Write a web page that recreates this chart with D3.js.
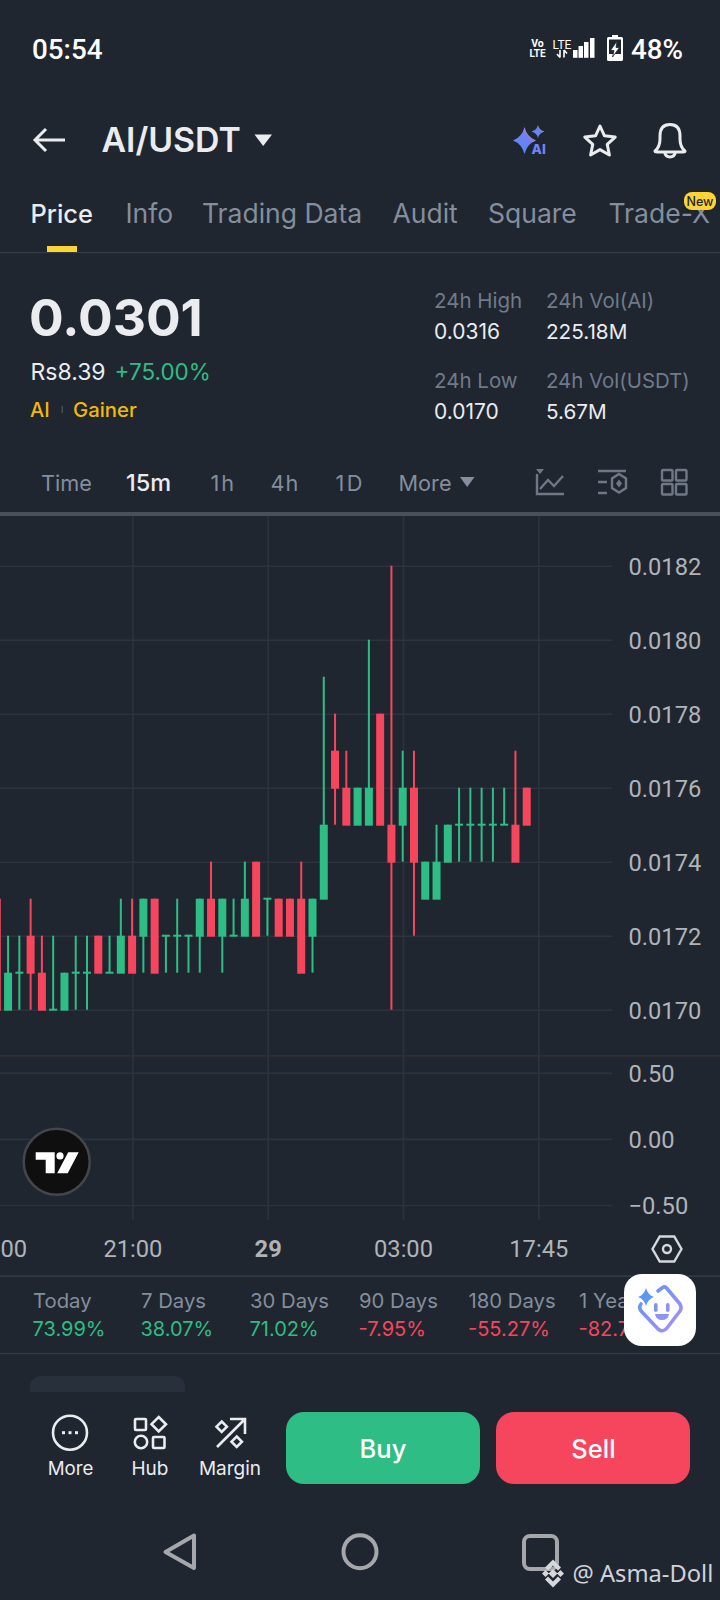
<!DOCTYPE html>
<html>
<head>
<meta charset="utf-8">
<title>AI/USDT</title>
<script src="https://cdn.jsdelivr.net/npm/d3@7/dist/d3.min.js"></script>
<style>
	html, body { margin: 0; padding: 0; background: #1f2630; }
	svg { display: block; }
	text { font-family: Inter, Roboto, sans-serif; }
</style>
</head>
<body>
<div id="app"></div>
<script>
// 15m candles, oldest first
const opens = [
	0.0173, 0.0170, 0.0171, 0.0172, 0.0171, 0.0170, 0.0170, 0.0171, 0.0171, 0.0172, 0.0171, 0.0171,
	0.0172, 0.0172, 0.0173, 0.0172, 0.0172, 0.0172, 0.0172, 0.0173, 0.0172, 0.0172, 0.0172, 0.0174,
	0.0173, 0.0173, 0.0173, 0.0173, 0.0172, 0.0173, 0.0177, 0.0176, 0.0175, 0.0175, 0.0178, 0.0175,
	0.0175, 0.0176, 0.0173, 0.0173, 0.0174, 0.0175, 0.0175, 0.0175, 0.0175, 0.0175, 0.0175, 0.0176
];
const highs = [
	0.0173, 0.0172, 0.0172, 0.0173, 0.0172, 0.0172, 0.0171, 0.0172, 0.0172, 0.0172, 0.0172, 0.0173,
	0.0173, 0.0173, 0.0173, 0.0172, 0.0173, 0.0172, 0.0173, 0.0174, 0.0173, 0.0173, 0.0174, 0.0174,
	0.0173, 0.0173, 0.0173, 0.0174, 0.0173, 0.0179, 0.0178, 0.0177, 0.0176, 0.0180, 0.0178, 0.0182,
	0.0177, 0.0177, 0.0174, 0.0175, 0.0175, 0.0176, 0.0176, 0.0176, 0.0176, 0.0176, 0.0177, 0.0176
];
const lows = [
	0.0170, 0.0170, 0.0170, 0.0170, 0.0170, 0.0170, 0.0170, 0.0170, 0.0170, 0.0171, 0.0171, 0.0171,
	0.0171, 0.0171, 0.0171, 0.0171, 0.0171, 0.0171, 0.0171, 0.0172, 0.0171, 0.0172, 0.0172, 0.0172,
	0.0172, 0.0172, 0.0172, 0.0171, 0.0171, 0.0173, 0.0175, 0.0175, 0.0175, 0.0175, 0.0175, 0.0170,
	0.0174, 0.0172, 0.0173, 0.0173, 0.0174, 0.0174, 0.0174, 0.0174, 0.0174, 0.0175, 0.0174, 0.0175
];
const closes = [
	0.0170, 0.0171, 0.0171, 0.0171, 0.0170, 0.0170, 0.0171, 0.0171, 0.0171, 0.0171, 0.0171, 0.0172,
	0.0171, 0.0173, 0.0171, 0.0172, 0.0172, 0.0172, 0.0173, 0.0172, 0.0173, 0.0172, 0.0173, 0.0172,
	0.0173, 0.0172, 0.0172, 0.0171, 0.0173, 0.0175, 0.0176, 0.0175, 0.0176, 0.0176, 0.0175, 0.0174,
	0.0176, 0.0174, 0.0174, 0.0174, 0.0175, 0.0175, 0.0175, 0.0175, 0.0175, 0.0175, 0.0174, 0.0175
];

const priceTicks = [0.0170, 0.0172, 0.0174, 0.0176, 0.0178, 0.0180, 0.0182];
const oscTicks = [-0.5, 0, 0.5];
const timeTickIndex = [0, 12, 24, 36, 48];
const timeTickLabels = ['18:00', '21:00', '29', '03:00', '17:45'];

const periodNames = ['Today', '7 Days', '30 Days', '90 Days', '180 Days', '1 Year'];
const periodChanges = [73.99, 38.07, 71.02, -7.95, -55.27, -82.71];

const tabNames = ['Price', 'Info', 'Trading Data', 'Audit', 'Square', 'Trade-X'];
const tabStarts = [30.5, 125.5, 202, 392.5, 488, 608.5];
const intervalNames = ['Time', '15m', '1h', '4h', '1D', 'More'];
const intervalStarts = [41, 126, 210.5, 270.5, 335.5, 398.5];
const intervalSpacing = [0, 0, 2, 1, 2.5, 0];
const periodStarts = [33, 141, 250, 359, 468.5, 579];

const GREEN = '#2ebd85', RED = '#f6465d', BG = '#1f2630', GRID = '#2c333d';
const WHITE = '#eaecef', GREY = '#848e9c', AXIS = '#b0b3b8';

const svg = d3.select('#app').append('svg').attr('width', 720).attr('height', 1600);
svg.append('rect').attr('width', 720).attr('height', 1600).attr('fill', BG);

const defs = svg.append('defs');
let aiGrad = defs.append('linearGradient').attr('id', 'aiGrad')
	.attr('x1', '0%').attr('y1', '100%').attr('x2', '100%').attr('y2', '0%');
aiGrad.append('stop').attr('offset', '0%').attr('stop-color', '#4f8dfa');
aiGrad.append('stop').attr('offset', '60%').attr('stop-color', '#6f80f5');
aiGrad.append('stop').attr('offset', '100%').attr('stop-color', '#f08f7f');
let botGrad = defs.append('linearGradient').attr('id', 'botGrad')
	.attr('x1', '0%').attr('y1', '0%').attr('x2', '100%').attr('y2', '100%');
botGrad.append('stop').attr('offset', '0%').attr('stop-color', '#5b97f8');
botGrad.append('stop').attr('offset', '100%').attr('stop-color', '#ab8ef5');

function label(g, x, y, str, size, fill, opts = {}) {
	return g.append('text')
		.attr('x', x).attr('y', y)
		.attr('font-size', size)
		.attr('fill', fill)
		.attr('font-weight', opts.weight || 400)
		.attr('text-anchor', opts.anchor || 'start')
		.style('font-family', opts.family || null)
		.attr('letter-spacing', opts.spacing || null)
		.text(str);
}

// ---- chart ----
const x = d3.scaleLinear().domain([0, 48]).range([-2.9, 538.3]);
const y = d3.scaleLinear().domain([0.0170, 0.0182]).range([1009.7, 565.7]);
const yOsc = d3.scaleLinear().domain([-0.5, 0.5]).range([1205, 1072.7]);

const chart = svg.append('g').attr('class', 'chart');

function styleAxis(g) {
	g.select('.domain').remove();
	g.selectAll('.tick line').attr('stroke', GRID).attr('stroke-width', 1.6);
	g.selectAll('.tick text')
		.attr('fill', AXIS)
		.attr('font-size', 23.7)
		.style('font-family', 'Roboto, sans-serif');
}

chart.append('g')
	.attr('transform', 'translate(0,1220)')
	.call(d3.axisBottom(x)
		.tickValues(timeTickIndex)
		.tickFormat((d, i) => timeTickLabels[i])
		.tickSize(-704)
		.tickPadding(20))
	.call(styleAxis)
	.call(g => g.selectAll('.tick text')
		.attr('font-weight', (d, i) => timeTickLabels[i] === '29' ? 700 : 400));

chart.append('g')
	.call(d3.axisRight(y)
		.tickValues(priceTicks)
		.tickFormat(d3.format('.4f'))
		.tickSize(612)
		.tickPadding(16.5))
	.call(styleAxis)
	.call(g => g.selectAll('.tick text').attr('dy', '0.37em'));

chart.append('g')
	.call(d3.axisRight(yOsc)
		.tickValues(oscTicks)
		.tickFormat(d3.format('.2f'))
		.tickSize(612)
		.tickPadding(16.5))
	.call(styleAxis)
	.call(g => g.selectAll('.tick text').attr('dy', '0.37em'));

chart.append('rect').attr('x', 0).attr('y', 512).attr('width', 720).attr('height', 4).attr('fill', '#4a4f59');
chart.append('rect').attr('x', 0).attr('y', 1055).attr('width', 720).attr('height', 1.6).attr('fill', '#302f33');

const candles = opens.map((o, i) => ({ i, o, h: highs[i], l: lows[i], c: closes[i] }));
const up = d => d.c >= d.o;
const candle = chart.append('g').selectAll('g').data(candles).join('g')
	.attr('fill', d => up(d) ? GREEN : RED);
candle.append('rect')
	.attr('x', d => x(d.i) - 1.3)
	.attr('width', 2)
	.attr('y', d => y(d.h))
	.attr('height', d => y(d.l) - y(d.h));
candle.append('rect')
	.attr('x', d => x(d.i) - 4.3)
	.attr('width', 8)
	.attr('y', d => d.o === d.c ? y(d.o) - 1 : y(Math.max(d.o, d.c)))
	.attr('height', d => d.o === d.c ? 2 : y(Math.min(d.o, d.c)) - y(Math.max(d.o, d.c)) + 1);

// tradingview badge
const tv = svg.append('g').attr('transform', 'translate(56.7,1161.7)');
tv.append('circle').attr('r', 33).attr('fill', '#0f0f0f').attr('stroke', '#43464d').attr('stroke-width', 2.5);
tv.append('path').attr('fill', '#fff')
	.attr('d', 'M-21 -9.5H-2V11.5H-11V-2H-21Z M11.5 -9.5H22L11 11.5H0.5Z');
tv.append('circle').attr('cx', 3.3).attr('cy', -5.8).attr('r', 3.6).attr('fill', '#fff');

// ---- status bar ----
const ui = svg.append('g');
label(ui, 32, 59, '05:54', 27.8, '#fff', { weight: 500, family: 'Roboto, sans-serif' });
label(ui, 631, 58.5, '48%', 27.8, '#fff', { weight: 500, family: 'Roboto, sans-serif' });
label(ui, 537.5, 47, 'Vo', 10.5, '#fff', { anchor: 'middle', weight: 700, family: 'Roboto, sans-serif' });
label(ui, 537.5, 57, 'LTE', 10, '#fff', { anchor: 'middle', weight: 700, family: 'Roboto, sans-serif' });
label(ui, 562, 49, 'LTE', 12, '#fff', { anchor: 'middle', family: 'Roboto, sans-serif' });
ui.append('path').attr('stroke', '#fff').attr('stroke-width', 1.6).attr('fill', 'none')
	.attr('d', 'M560 50V57.5M557 54L560 57.5M564 57.5V50M564 50L567 53.5');
[[573, 50], [578.5, 46], [584, 42], [590, 38]].forEach(b => {
	ui.append('rect').attr('x', b[0]).attr('y', b[1]).attr('width', 4.5).attr('height', 57.8 - b[1]).attr('fill', '#fff');
});
ui.append('path').attr('fill', '#fff').attr('fill-rule', 'evenodd')
	.attr('d', 'M612 35H618V37H621.5Q623 37 623 38.5V59.5Q623 61 621.5 61H608.5Q607 61 607 59.5V38.5Q607 37 608.5 37H612Z M609 39.5V58.5H621V39.5Z');
ui.append('rect').attr('x', 608).attr('y', 54).attr('width', 14).attr('height', 6).attr('fill', '#fff');
ui.append('path').attr('fill', '#fff').attr('stroke', BG).attr('stroke-width', 0.8)
	.attr('d', 'M617 41L610.5 50.5H614L612.5 57L619.5 47.5H616Z');

// ---- title row ----
ui.append('path').attr('fill', 'none').attr('stroke', WHITE).attr('stroke-width', 3)
	.attr('d', 'M36 140H65M46 129L35 140L46 151');
label(ui, 101.5, 152, 'AI/USDT', 33.8, WHITE, { weight: 600 });
ui.append('path').attr('fill', WHITE).attr('d', 'M254.5 134.5H272L263.2 146Z');
ui.append('path').attr('fill', 'url(#aiGrad)')
	.attr('d', 'M524.5 127Q527 137 536 140.5Q527 144 524.5 154Q522 144 513 140.5Q522 137 524.5 127Z');
ui.append('path').attr('fill', 'url(#aiGrad)')
	.attr('d', 'M538 125Q539 130 544.5 131.5Q539 133 538 138Q537 133 531.5 131.5Q537 130 538 125Z');
label(ui, 531.5, 154, 'AI', 13.5, '#6f86f5', { weight: 800 });
const starPts = d3.range(10).map(i => {
	let r = i % 2 ? 7.6 : 16, a = i * Math.PI / 5;
	return [600 + r * Math.sin(a), 142 - r * Math.cos(a)];
});
ui.append('path').attr('fill', 'none').attr('stroke', WHITE).attr('stroke-width', 3).attr('stroke-linejoin', 'round')
	.attr('d', d3.line()(starPts) + 'Z');
ui.append('path').attr('fill', 'none').attr('stroke', WHITE).attr('stroke-width', 3).attr('stroke-linejoin', 'round')
	.attr('d', 'M655 151Q660 147 660 139V136Q660 124.5 670 124.5Q680 124.5 680 136V139Q680 147 685 151Q685 152 683 152H657Q655 152 655 151Z M664.5 152Q665.5 157 670 157Q674.5 157 675.5 152');

// ---- tabs ----
tabNames.forEach((t, i) => {
	label(ui, tabStarts[i], 223, t, i === 0 ? 25.4 : 26.5, i === 0 ? WHITE : GREY, { weight: i === 0 ? 500 : 400 });
});
ui.append('rect').attr('x', 47).attr('y', 246).attr('width', 30).attr('height', 6).attr('fill', '#fcd535');
ui.append('rect').attr('x', 0).attr('y', 252).attr('width', 720).attr('height', 1.2).attr('fill', '#333b47');
ui.append('rect').attr('x', 684).attr('y', 192).attr('width', 32).attr('height', 18).attr('rx', 8).attr('fill', '#fcd535');
label(ui, 700, 205.5, 'New', 12.5, '#202630', { anchor: 'middle', weight: 500 });

// ---- price header ----
label(ui, 29, 336, '0.0301', 51.5, WHITE, { weight: 700 });
label(ui, 30.5, 380, 'Rs8.39', 23, WHITE);
label(ui, 114.5, 380, '+75.00%', 22.5, GREEN);
label(ui, 30, 417, 'AI', 20, '#f0b90b', { weight: 500 });
ui.append('rect').attr('x', 61.5).attr('y', 406).attr('width', 1.5).attr('height', 7).attr('fill', '#474d57');
label(ui, 73, 417, 'Gainer', 20.3, '#f0b90b', { weight: 500 });
label(ui, 434, 308, '24h High', 20.5, '#717a8a');
label(ui, 434, 339, '0.0316', 21, WHITE);
label(ui, 546, 308, '24h Vol(AI)', 20.5, '#717a8a');
label(ui, 546, 339, '225.18M', 20.7, WHITE);
label(ui, 434, 388, '24h Low', 20.5, '#717a8a');
label(ui, 434, 419, '0.0170', 21, WHITE);
label(ui, 546, 388, '24h Vol(USDT)', 20.4, '#717a8a');
label(ui, 546, 419, '5.67M', 20.7, WHITE);

// ---- intervals ----
intervalNames.forEach((t, i) => {
	label(ui, intervalStarts[i], 491, t, i === 1 ? 23.5 : 21.7, i === 1 ? WHITE : GREY,
		{ weight: i === 1 ? 500 : 400, spacing: intervalSpacing[i] });
});
ui.append('path').attr('fill', GREY).attr('d', 'M460 477H474.5L467.2 487Z');
const tool = ui.append('g').attr('fill', 'none').attr('stroke', '#6f7885').attr('stroke-width', 2.4);
tool.append('path').attr('d', 'M537 474V494H564M540 489L548 480L554 486L563 476');
ui.append('path').attr('fill', '#6f7885').attr('d', 'M536 469H544L540 474Z');
tool.append('path').attr('d', 'M598 471H626M598 482H607M598 493H607');
tool.append('path').attr('d', 'M619 474L626 478.5V488L619 492.5L612 488V478.5Z');
ui.append('path').attr('fill', '#6f7885').attr('d', 'M619 479.5L622 483.5L619 487.5L616 483.5Z');
[[662, 470], [676, 470], [662, 484], [676, 484]].forEach(p => {
	tool.append('rect').attr('x', p[0]).attr('y', p[1]).attr('width', 10.5).attr('height', 10.5).attr('rx', 1);
});

// ---- period performance ----
ui.append('rect').attr('x', 0).attr('y', 1275.5).attr('width', 720).attr('height', 1.2).attr('fill', '#3a414c');
ui.append('rect').attr('x', 0).attr('y', 1353).attr('width', 720).attr('height', 1.2).attr('fill', '#333b47');
periodNames.forEach((t, i) => {
	label(ui, periodStarts[i], 1308, t, 20.3, GREY);
	let v = periodChanges[i];
	label(ui, periodStarts[i] - 0.5, 1336, d3.format('.2f')(v).replace('\u2212', '-') + '%', 20, v < 0 ? RED : GREEN);
});

// bot button
const bot = svg.append('g');
bot.append('rect').attr('x', 624).attr('y', 1274).attr('width', 72).attr('height', 72).attr('rx', 18).attr('fill', '#fff');
bot.append('path').attr('fill', 'none').attr('stroke', 'url(#botGrad)').attr('stroke-width', 3.6).attr('stroke-linejoin', 'round').attr('stroke-linecap', 'round')
	.attr('d', 'M658 1291L662 1288Q664 1286 666.5 1288L680 1304Q682 1308 680 1311L667 1328Q663 1333 658 1329L642 1312Q638 1308 641 1304');
bot.append('path').attr('fill', '#5b97f8').attr('d', 'M646 1288Q648 1295 654 1297Q648 1299 646 1306Q644 1299 638 1297Q644 1295 646 1288Z');
bot.append('rect').attr('x', 654).attr('y', 1303).attr('width', 3.6).attr('height', 9).attr('rx', 1.8).attr('fill', '#7d94f7');
bot.append('rect').attr('x', 666).attr('y', 1303).attr('width', 3.6).attr('height', 9).attr('rx', 1.8).attr('fill', '#8d92f6');
bot.append('path').attr('fill', '#8d92f6').attr('d', 'M655 1314H669Q668 1320 662 1320Q656 1320 655 1314Z');

// hexagon settings button
const hex = d3.range(6).map(i => [667 + 14.5 * Math.cos(i * Math.PI / 3), 1249 + 14.5 * Math.sin(i * Math.PI / 3)]);
ui.append('path').attr('fill', 'none').attr('stroke', '#d5d8dc').attr('stroke-width', 2.4).attr('d', d3.line()(hex) + 'Z');
ui.append('circle').attr('cx', 667).attr('cy', 1249).attr('r', 4).attr('fill', 'none').attr('stroke', '#d5d8dc').attr('stroke-width', 2.4);

// ---- bottom bar ----
const foot = svg.append('g');
foot.append('path').attr('fill', '#28303b').attr('d', 'M30 1392V1388Q30 1376 42 1376H173Q185 1376 185 1388V1392Z');
const ico = foot.append('g').attr('fill', 'none').attr('stroke', WHITE).attr('stroke-width', 2.6);
ico.append('circle').attr('cx', 70).attr('cy', 1432.7).attr('r', 17);
[63.5, 70, 76.5].forEach(cx => foot.append('rect').attr('x', cx - 1.5).attr('y', 1431.2).attr('width', 3).attr('height', 3).attr('fill', WHITE));
ico.append('rect').attr('x', 135).attr('y', 1419).attr('width', 11).attr('height', 11).attr('rx', 1);
ico.append('path').attr('d', 'M158.7 1417L166 1424.2L158.7 1431.5L151.5 1424.2Z');
ico.append('circle').attr('cx', 141).attr('cy', 1442).attr('r', 6.2);
ico.append('rect').attr('x', 153).attr('y', 1437).attr('width', 11.5).attr('height', 11).attr('rx', 1);
ico.append('path').attr('d', 'M217 1447L245 1419M230 1419H245V1434');
ico.append('path').attr('d', 'M221.7 1421.5L226.9 1426.7L221.7 1431.9L216.5 1426.7Z');
ico.append('path').attr('d', 'M236.7 1436.5L241.9 1441.7L236.7 1446.9L231.5 1441.7Z');
label(foot, 70.5, 1475, 'More', 18.7, WHITE, { anchor: 'middle' });
label(foot, 150, 1475, 'Hub', 19, WHITE, { anchor: 'middle' });
label(foot, 230, 1475, 'Margin', 19, WHITE, { anchor: 'middle' });
foot.append('rect').attr('x', 286).attr('y', 1412).attr('width', 194).attr('height', 72).attr('rx', 18).attr('fill', GREEN);
foot.append('rect').attr('x', 496).attr('y', 1412).attr('width', 194).attr('height', 72).attr('rx', 18).attr('fill', RED);
label(foot, 383, 1457.5, 'Buy', 25.5, '#fff', { anchor: 'middle', weight: 500 });
label(foot, 593.5, 1457.5, 'Sell', 25.5, '#fff', { anchor: 'middle', weight: 500 });

// ---- android nav + watermark ----
const nav = svg.append('g').attr('fill', 'none').attr('stroke', '#a5a7ab').attr('stroke-width', 4).attr('stroke-linejoin', 'round');
nav.append('path').attr('d', 'M194 1535.5V1568L165.5 1552Z');
nav.append('circle').attr('cx', 360).attr('cy', 1551.7).attr('r', 16.5);
nav.append('rect').attr('x', 524).attr('y', 1536).attr('width', 33).attr('height', 33).attr('rx', 6);

const mark = svg.append('g').attr('fill', '#d5d8dc');
mark.append('path').attr('d', 'M553 1569L557.5 1573.5L553 1578L548.5 1573.5Z M542 1573.5L545.5 1570L549 1573.5L545.5 1577Z M557 1573.5L560.5 1570L564 1573.5L560.5 1577Z');
mark.append('path').attr('d', 'M553 1559.5L561 1567.5L558 1570.5L553 1565.5L548 1570.5L545 1567.5Z M553 1587.5L561 1579.5L558 1576.5L553 1581.5L548 1576.5L545 1579.5Z');
label(mark, 572.5, 1582, '@ Asma-Doll', 23.7, '#cfd2d8', { family: '"Noto Sans", sans-serif' });
</script>
</body>
</html>
